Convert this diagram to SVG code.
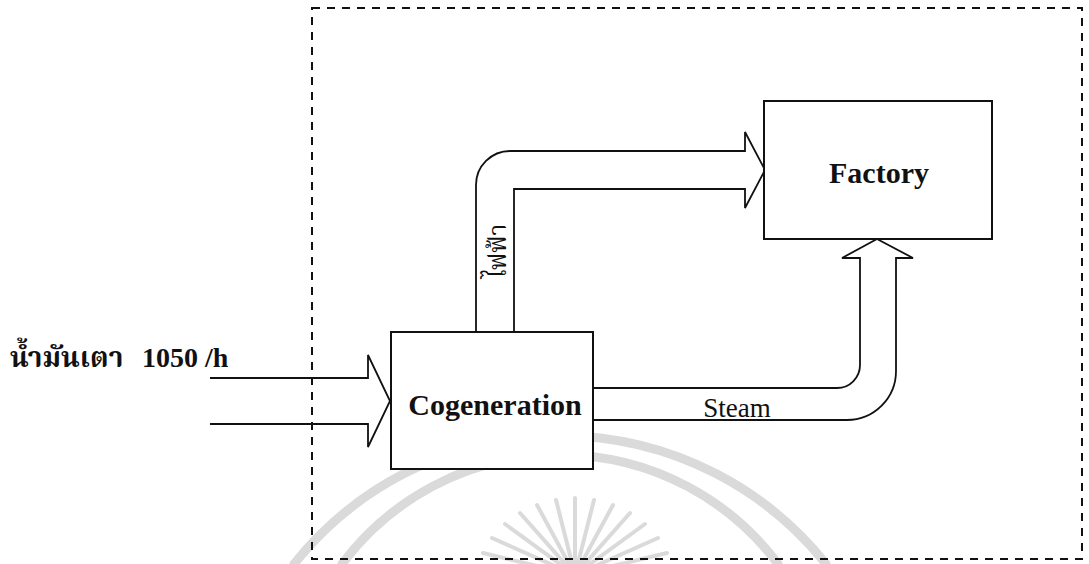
<svg xmlns="http://www.w3.org/2000/svg" width="1089" height="564" viewBox="0 0 1089 564">
<style>
.ln{fill:none;stroke:#111;stroke-width:1.8;stroke-linejoin:miter}
.box{fill:#fff;stroke:#111;stroke-width:2}
.wm{fill:none;stroke:#dadada;stroke-linecap:round}
.lbl{font-family:"Liberation Serif","Noto Serif Thai","Noto Sans Thai",serif;fill:#111}
.b{font-weight:bold}
</style>
<rect width="1089" height="564" fill="#fff"/>
<g id="watermark">
<path class="wm" stroke-width="9" d="M294,564 A340,340 0 0 1 826,564"/>
<path class="wm" stroke-width="9" d="M342,564 A272,272 0 0 1 778,564"/>
<g class="wm" stroke-width="4">
<line x1="575" y1="575" x2="575" y2="498"/>
<line x1="575" y1="575" x2="556" y2="500"/>
<line x1="575" y1="575" x2="594" y2="500"/>
<line x1="575" y1="575" x2="537" y2="505"/>
<line x1="575" y1="575" x2="613" y2="505"/>
<line x1="575" y1="575" x2="520" y2="513"/>
<line x1="575" y1="575" x2="630" y2="513"/>
<line x1="575" y1="575" x2="505" y2="524"/>
<line x1="575" y1="575" x2="645" y2="524"/>
<line x1="575" y1="575" x2="492" y2="538"/>
<line x1="575" y1="575" x2="658" y2="538"/>
<line x1="575" y1="575" x2="483" y2="553"/>
<line x1="575" y1="575" x2="667" y2="553"/>
</g>
</g>
<g id="boundary">
<rect x="312" y="8" width="770" height="551" fill="none" stroke="#111" stroke-width="2" stroke-dasharray="8 7"/>
</g>
<g id="connectors">
<path class="ln" d="M210,378 H368 V355 L390,401 L368,447 V424 H210"/>
<path class="ln" d="M476,332 V185 A34,34 0 0 1 510,151 H745 V132 L765,170 L745,208 V189 H514 V332"/>
<path class="ln" d="M593,388 H837 A23,23 0 0 0 860,365 V258 H842 L877,239 L913,258 H896 V371 A49,49 0 0 1 847,420 H593"/>
<text class="lbl" transform="translate(506,251) rotate(-90)" text-anchor="middle" font-size="24">ไฟฟ้า</text>
<text class="lbl" x="737" y="417" text-anchor="middle" font-size="27">Steam</text>
</g>
<g id="fuel-label">
<text class="lbl b" x="10" y="367" font-size="28">น้ำมันเตา<tspan x="142">1050 /h</tspan></text>
</g>
<g id="cogeneration">
<rect class="box" x="391" y="332" width="202" height="137"/>
<text class="lbl b" x="495" y="415" text-anchor="middle" font-size="30">Cogeneration</text>
</g>
<g id="factory">
<rect class="box" x="764" y="101" width="228" height="138"/>
<text class="lbl b" x="879" y="183" text-anchor="middle" font-size="30">Factory</text>
</g>
</svg>
